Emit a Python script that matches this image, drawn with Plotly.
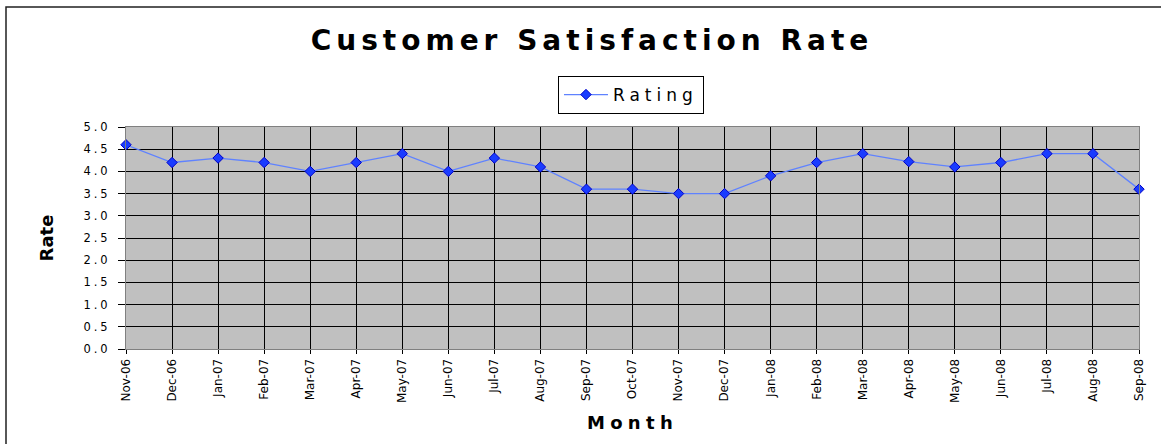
import plotly.graph_objects as go

months = ["Nov-06", "Dec-06", "Jan-07", "Feb-07", "Mar-07", "Apr-07", "May-07", "Jun-07",
          "Jul-07", "Aug-07", "Sep-07", "Oct-07", "Nov-07", "Dec-07", "Jan-08", "Feb-08",
          "Mar-08", "Apr-08", "May-08", "Jun-08", "Jul-08", "Aug-08", "Sep-08"]
rating = [4.6, 4.2, 4.3, 4.2, 4.0, 4.2, 4.4, 4.0, 4.3, 4.1, 3.6, 3.6, 3.5, 3.5, 3.9, 4.2,
          4.4, 4.22, 4.1, 4.2, 4.4, 4.4, 3.6]
y_ticks = [0.0, 0.5, 1.0, 1.5, 2.0, 2.5, 3.0, 3.5, 4.0, 4.5, 5.0]

FONT = "DejaVu Sans, Liberation Sans, Arial, sans-serif"


def spaced(text, px):
    return f'<span style="letter-spacing:{px}px">{text}</span>'


fig = go.Figure()
fig.add_trace(go.Scatter(
    x=months, y=rating, name=spaced("Rating", 5.0), mode="lines+markers",
    line=dict(color="#5f82ff", width=1.3),
    marker=dict(symbol="diamond", size=8, color="#1a3cff",
                line=dict(color="#0000c8", width=1)),
    cliponaxis=False,
))

fig.update_layout(
    width=1161, height=444,
    margin=dict(l=126, r=22, t=127, b=95),
    paper_bgcolor="white", plot_bgcolor="#c0c0c0",
    font=dict(family=FONT, color="black"),
    title=dict(text="<b>" + spaced("Customer Satisfaction Rate", 5.0) + "</b>",
               x=(589.5 + 2.5) / 1161, xanchor="center",
               y=1 - 40 / 444, yanchor="middle", yref="container",
               font=dict(size=28, family=FONT, color="black")),
    showlegend=True,
    legend=dict(x=0.4985, xanchor="center", y=(349 - 76) / 222, yanchor="top",
                bgcolor="white", bordercolor="black", borderwidth=1,
                font=dict(size=17, family=FONT, color="black"),
                itemwidth=44, tracegroupgap=0),
    shapes=[dict(type="rect", xref="paper", yref="paper",
                 x0=(6 - 126) / 1013, x1=(1175 - 126) / 1013,
                 y0=(349 - 460) / 222, y1=(349 - 7) / 222,
                 line=dict(color="#202020", width=1.5), layer="below")],
)

fig.update_xaxes(
    type="category", range=[0, len(months) - 1],
    showgrid=True, gridcolor="black", gridwidth=1,
    tickangle=-90, tickfont=dict(size=12, family=FONT, color="black"),
    ticks="outside", ticklen=4, tickcolor="black",
    showline=True, linecolor="#808080", linewidth=1, mirror=True,
    title=dict(text="<b>" + spaced("Month", 5.3) + "</b>",
               font=dict(size=18, family=FONT, color="black"), standoff=14),
)
fig.update_yaxes(
    range=[0, 5], tickvals=y_ticks,
    ticktext=[spaced(f"{v:.1f}", 3.0) for v in y_ticks],
    showgrid=True, gridcolor="black", gridwidth=1,
    zeroline=True, zerolinecolor="black", zerolinewidth=1,
    tickfont=dict(size=11.5, family=FONT, color="black"),
    ticks="outside", ticklen=7, tickcolor="black", ticklabelstandoff=5,
    showline=True, linecolor="#808080", linewidth=1, mirror=True,
    title=dict(text="<b>Rate</b>", font=dict(size=18, family=FONT, color="black"),
               standoff=25),
)

fig.write_html("out.html", config={"displayModeBar": False},
               post_script="document.body.style.margin='0';")
